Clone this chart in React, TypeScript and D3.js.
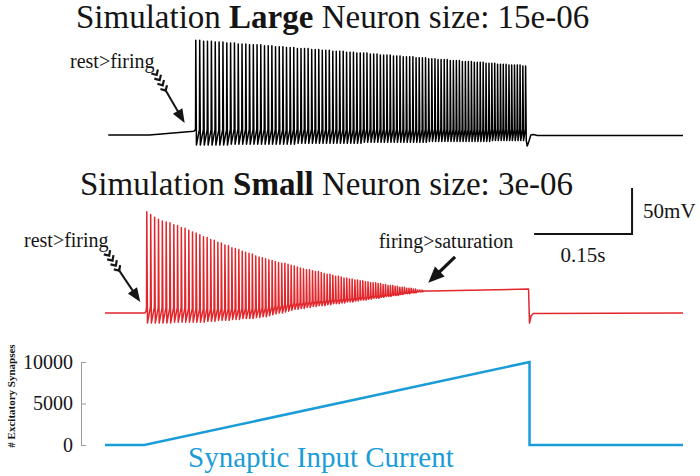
import * as React from 'react';
import {useEffect, useRef} from 'react';
import * as d3 from 'd3';

// ---- data (time in ms, membrane potential in mV) ----

// large neuron: spike times, peak and trough potentials
const largeSpikeTimes = [
  139.0, 145.0, 151.0, 156.9, 162.9, 168.8, 174.7, 180.6, 186.5, 192.3,
  198.2, 204.0, 209.8, 215.6, 221.3, 227.1, 232.8, 238.5, 244.2, 249.9,
  255.5, 261.1, 266.8, 272.4, 277.9, 283.5, 289.0, 294.6, 300.1, 305.5,
  311.0, 316.5, 321.9, 327.3, 332.7, 338.1, 343.4, 348.8, 354.1, 359.4,
  364.7, 369.9, 375.2, 380.4, 385.6, 390.8, 396.0, 401.1, 406.3, 411.4,
  416.5, 421.6, 426.6, 431.7, 436.7, 441.7, 446.7, 451.7, 456.6, 461.6,
  466.5, 471.4, 476.3, 481.1, 486.0, 490.8, 495.6, 500.4, 505.2, 509.9,
  514.6, 519.4, 524.0, 528.7, 533.4, 538.0, 542.6, 547.2, 551.8, 556.4,
  561.0, 565.5, 570.0, 574.5, 579.0, 583.4, 587.9, 592.3, 596.7, 601.1,
  605.5, 609.8, 614.1, 618.5, 622.7, 627.0, 631.3, 635.5, 639.8, 644.0,
];
const largeSpikePeaks = [
  33, 33, 32, 32, 32, 31, 31, 31, 30, 30,
  30, 29, 29, 29, 28, 28, 28, 28, 27, 27,
  27, 26, 26, 26, 25, 25, 25, 24, 24, 24,
  24, 23, 23, 23, 22, 22, 22, 21, 21, 21,
  21, 20, 20, 20, 19, 19, 19, 19, 18, 18,
  18, 17, 17, 17, 17, 16, 16, 16, 15, 15,
  15, 15, 14, 14, 14, 14, 13, 13, 13, 12,
  12, 12, 12, 11, 11, 11, 11, 10, 10, 10,
  10, 9, 9, 9, 9, 8, 8, 8, 8, 7,
  7, 7, 7, 6, 6, 6, 6, 6, 5, 5,
];
const largeSpikeTroughs = [
  -81, -81, -81, -81, -81, -81, -81, -81, -81, -80,
  -80, -80, -80, -80, -80, -80, -80, -80, -80, -80,
  -80, -80, -80, -80, -80, -80, -80, -79, -79, -79,
  -79, -79, -79, -79, -79, -79, -79, -79, -79, -79,
  -79, -79, -79, -79, -79, -79, -78, -78, -78, -78,
  -78, -78, -78, -78, -78, -78, -78, -78, -78, -78,
  -78, -78, -78, -78, -78, -78, -77, -77, -77, -77,
  -77, -77, -77, -77, -77, -77, -77, -77, -77, -77,
  -77, -77, -77, -77, -77, -77, -77, -76, -76, -76,
  -76, -76, -76, -76, -76, -76, -76, -76, -76, -76,
];
const largeBefore: [number, number][] = [[5, -70], [68, -70], [136, -66]];
const largeAfter: [number, number][] = [[646.5, -82], [649, -77], [652, -70], [656, -69.5], [662, -70.5], [885, -70.5]];

// small neuron
const smallSpikeTimes = [
  64.0, 70.0, 76.0, 81.9, 87.8, 93.7, 99.5, 105.4, 111.1, 116.9,
  122.6, 128.3, 134.0, 139.6, 145.2, 150.8, 156.4, 161.9, 167.3, 172.8,
  178.2, 183.6, 189.0, 194.3, 199.6, 204.9, 210.1, 215.3, 220.5, 225.6,
  230.8, 235.9, 240.9, 245.9, 250.9, 255.9, 260.8, 265.7, 270.6, 275.4,
  280.3, 285.0, 289.8, 294.5, 299.2, 303.9, 308.5, 313.1, 317.7, 322.2,
  326.7, 331.2, 335.6, 340.1, 344.5, 348.8, 353.1, 357.4, 361.7, 365.9,
  370.1, 374.3, 378.4, 382.6, 386.6, 390.7, 394.7, 398.7, 402.7, 406.6,
  410.5, 414.4, 418.2, 422.0, 425.8, 429.5, 433.3, 436.9, 440.6, 444.2,
  447.8, 451.4, 454.9, 458.4, 461.9, 465.4, 468.8, 472.2, 475.5, 478.8,
  482.1, 485.4, 488.6, 491.8,
];
const smallSpikePeaks = [
  40, 37, 34, 32, 30, 29, 28, 26, 25, 23,
  22, 20, 18, 17, 15, 13, 12, 10, 9, 7,
  6, 4, 3, 1, 0, -1, -3, -4, -5, -6,
  -8, -9, -10, -11, -12, -13, -14, -15, -16, -16,
  -17, -18, -19, -20, -21, -22, -23, -23, -24, -25,
  -25, -26, -27, -28, -28, -29, -30, -30, -31, -32,
  -32, -33, -33, -34, -34, -35, -35, -36, -36, -37,
  -37, -37, -38, -38, -39, -39, -40, -40, -40, -41,
  -41, -42, -42, -42, -43, -43, -43, -44, -44, -45,
  -45, -45, -46, -46,
];
const smallSpikeTroughs = [
  -81, -81, -81, -81, -81, -81, -81, -80, -80, -80,
  -80, -80, -80, -80, -80, -80, -79, -79, -79, -78,
  -78, -78, -78, -77, -77, -77, -76, -76, -76, -76,
  -75, -75, -74, -74, -73, -72, -71, -70, -70, -69,
  -68, -67, -66, -66, -65, -65, -64, -64, -63, -63,
  -62, -62, -62, -61, -61, -60, -60, -60, -59, -59,
  -58, -58, -58, -57, -57, -56, -56, -56, -55, -55,
  -54, -54, -54, -53, -53, -52, -52, -52, -51, -51,
  -51, -50, -50, -49, -49, -49, -48, -48, -48, -47,
  -47, -47, -46, -46,
];
const smallBefore: [number, number][] = [[0, -70], [61, -70], [63, -68]];
const smallAfter: [number, number][] = [[500, -46], [648.5, -44], [650, -81], [652.5, -73], [656, -70.5], [885, -70]];

// synaptic input: time (ms) vs number of excitatory synapses
const inputTimes = [0, 60, 650, 650, 885];
const inputSynapses = [0, 0, 10000, 0, 0];
const inputTicks = [0, 5000, 10000];

// ---- layout ----
const W = 700;
const H = 476;
const FONT = 'Liberation Serif';
const INK = '#151515';
const RED = '#e2262b';
const BLUE = '#1a9cd8';

const x = d3.scaleLinear().domain([0, 885]).range([105, 683]);
const vTop = d3.scaleLinear().domain([-70, 30]).range([135, 43]);
const vMid = d3.scaleLinear().domain([-70, 30]).range([313, 221]);
const yInput = d3.scaleLinear().domain([0, 10000]).range([445, 362]);

const buildTrace = (
  before: [number, number][],
  times: number[],
  peaks: number[],
  troughs: number[],
  after: [number, number][],
) => {
  const pts: [number, number][] = [...before];
  times.forEach((t, i) => {
    const thr = troughs[i] + 0.15 * (peaks[i] - troughs[i]);
    pts.push([t - 0.4, thr], [t, peaks[i]], [t + 1.0, troughs[i]]);
  });
  return pts.concat(after);
};

interface ArrowProps {
  from: [number, number];
  to: [number, number];
  chevrons?: boolean;
  shaft: number;
  headL: number;
  headW: number;
}

const Arrow = ({from, to, chevrons, shaft, headL, headW}: ArrowProps) => {
  const dx = to[0] - from[0];
  const dy = to[1] - from[1];
  const L = Math.hypot(dx, dy);
  const ang = Math.atan2(dy, dx) * 180 / Math.PI;
  return (
    <g transform={`translate(${from[0]},${from[1]}) rotate(${ang})`}>
      {chevrons && [0, 1, 2, 3].map(i => (
        <path key={i} d={`M${i * 6},-3.8 L${i * 6 + 4},0 L${i * 6},3.8`}
              fill="none" stroke={INK} strokeWidth={2.2}/>
      ))}
      <line x1={chevrons ? 20 : 0} y1={0} x2={L - headL + 1} y2={0} stroke={INK} strokeWidth={shaft}/>
      <path d={`M${L},0 L${L - headL},${-headW / 2} L${L - headL},${headW / 2}Z`} fill={INK}/>
    </g>
  );
};

// a text label in the serif face
const Label = (props: React.SVGProps<SVGTextElement>) => (
  <text fontFamily={FONT} style={{fontFamily: `'${FONT}'`}} fill={INK} {...props}/>
);

export default function App() {
  const axisRef = useRef<SVGGElement>(null);

  useEffect(() => {
    const g = d3.select(axisRef.current);
    g.selectAll('*').remove();
    g.call(
      d3.axisLeft(yInput)
        .tickValues(inputTicks)
        .tickFormat(d3.format('d'))
        .tickSizeInner(-5)
        .tickSizeOuter(0)
        .tickPadding(8) as any
    );
    g.attr('font-family', FONT).attr('font-size', 20);
    g.selectAll('path, line').attr('stroke', '#9a9a9a');
    g.selectAll('text').attr('fill', INK).attr('font-family', FONT).style('font-family', `'${FONT}'`);
  }, []);

  const lineTop = d3.line<[number, number]>().x(d => x(d[0])).y(d => vTop(d[1]));
  const lineMid = d3.line<[number, number]>().x(d => x(d[0])).y(d => vMid(d[1]));
  const lineInput = d3.line<number>().x(d => x(d)).y((_, i) => yInput(inputSynapses[i]));

  const largeTrace = buildTrace(largeBefore, largeSpikeTimes, largeSpikePeaks, largeSpikeTroughs, largeAfter);
  const smallTrace = buildTrace(smallBefore, smallSpikeTimes, smallSpikePeaks, smallSpikeTroughs, smallAfter);

  // scale bar: 150 ms by 50 mV, anchored in the small-neuron panel
  const sbT = 807;
  const sbV = 16;

  return (
    <svg width={W} height={H} viewBox={`0 0 ${W} ${H}`} fontFamily={FONT}
         style={{position: 'absolute', left: 0, top: 0, display: 'block', background: '#fff'}}>
      <style>{`text { font-family: '${FONT}'; }`}</style>
      <rect width={W} height={H} fill="#fff"/>

      {/* titles */}
      <Label x={76} y={28} fontSize={33}>
        Simulation <tspan fontWeight="bold">Large</tspan> Neuron size: 15e-06
      </Label>
      <Label x={80} y={195} fontSize={33}>
        Simulation <tspan fontWeight="bold">Small</tspan> Neuron size: 3e-06
      </Label>

      {/* traces */}
      <path d={lineTop(largeTrace) ?? ''} fill="none" stroke="#000" strokeWidth={1.5} strokeLinejoin="round"/>
      <path d={lineMid(smallTrace) ?? ''} fill="none" stroke={RED} strokeWidth={1.5} strokeLinejoin="round"/>
      <path d={lineInput(inputTimes) ?? ''} fill="none" stroke={BLUE} strokeWidth={2.5}/>

      {/* annotations */}
      <Label x={70} y={68} fontSize={20}>rest&gt;firing</Label>
      <Arrow from={[x(76), vTop(-1)]} to={[x(122), vTop(-57)]} chevrons shaft={2} headL={14} headW={11}/>

      <Label x={24} y={247} fontSize={20}>rest&gt;firing</Label>
      <Arrow from={[x(3), vMid(-4)]} to={[x(54), vMid(-58)]} chevrons shaft={2} headL={14} headW={11}/>

      <Label x={446} y={248} fontSize={20} textAnchor="middle">firing&gt;saturation</Label>
      <Arrow from={[x(536), vMid(-9)]} to={[x(495), vMid(-37)]} shaft={3.2} headL={16} headW={14}/>

      {/* scale bar */}
      <path d={`M${x(sbT - 150)},${vMid(sbV)} H${x(sbT)} V${vMid(sbV + 50)}`} fill="none" stroke={INK} strokeWidth={2}/>
      <Label x={x(sbT) + 11} y={218} fontSize={21}>50mV</Label>
      <Label x={x(sbT - 75)} y={262} fontSize={21} textAnchor="middle">0.15s</Label>

      {/* input axis */}
      <g ref={axisRef} transform="translate(81,0)"/>
      <Label transform="translate(15,396) rotate(-90)" fontSize={11} fontWeight="bold" textAnchor="middle">
        # Excitatory Synapses
      </Label>
      <Label x={188} y={467} fontSize={29} fill={BLUE}>Synaptic Input Current</Label>
    </svg>
  );
}
